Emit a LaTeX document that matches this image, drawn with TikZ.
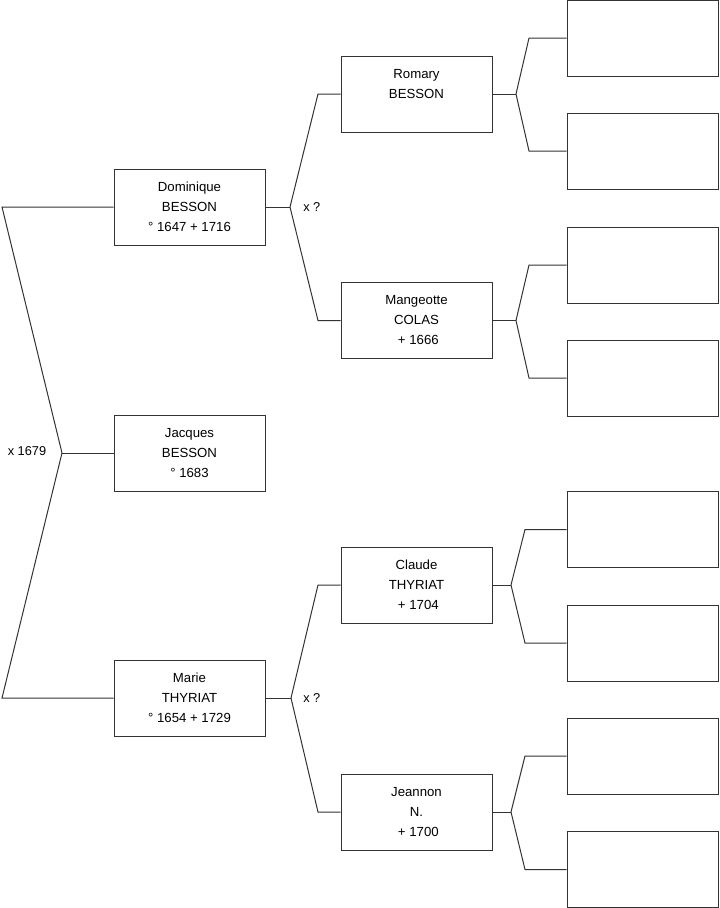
\documentclass[tikz,border=0pt]{standalone}
\usepackage{fontspec}
\setmainfont{Liberation Sans}
\usetikzlibrary{positioning, calc}
\definecolor{treeline}{HTML}{333333}

\begin{document}
\begin{tikzpicture}[
  x=0.75pt, y=-0.75pt,
  person/.style={draw=treeline, line width=0.75pt, minimum width=113.25pt, minimum height=57pt, inner sep=0pt, align=center, font=\fontsize{9.9}{15}\selectfont},
  blank/.style={draw=treeline, line width=0.75pt, minimum width=113.25pt, minimum height=57pt, inner sep=0pt},
  link/.style={draw=treeline, line width=0.75pt},
  union/.style={font=\fontsize{9.6}{11}\selectfont, inner sep=0pt}
]
\useasboundingbox (0,0) rectangle (719,908);

% generation 1 and 2
\node[person] (jacques) at (189.5,453) {Jacques\\BESSON\\° 1683};
\node[person] (dominique) at (189.5,207) {Dominique\\BESSON\\° 1647 + 1716};
\node[person] (marie) at (189.5,698) {Marie\\THYRIAT\\° 1654 + 1729};

% generation 3
\node[person] (romary) at (416.5,94) {Romary\\BESSON\\~};
\node[person] (mangeotte) at (416.5,320.5) {Mangeotte\\COLAS\\\ + 1666};
\node[person] (claude) at (416.5,585) {Claude\\THYRIAT\\\ + 1704};
\node[person] (jeannon) at (416.5,812) {Jeannon\\N.\\\ + 1700};

% generation 4 (empty)
\node[blank] (r1) at (642.5,38) {};
\node[blank] (r2) at (642.5,151) {};
\node[blank] (r3) at (642.5,265) {};
\node[blank] (r4) at (642.5,378) {};
\node[blank] (r5) at (642.5,529.5) {};
\node[blank] (r6) at (642.5,643) {};
\node[blank] (r7) at (642.5,756) {};
\node[blank] (r8) at (642.5,869.5) {};

% unions
\node[union] (u1) at (27,451) {x 1679};
\node[union, anchor=west] (u2) at (303,207) {x ?};
\node[union, anchor=west] (u3) at (303,698) {x ?};

% forks
\coordinate (j0) at (62,453);
\coordinate (xl) at (2,0);
\draw[link] (jacques.west) -- (j0);
\draw[link] (j0) -- (dominique.west -| xl) -- (dominique.west);
\draw[link] (j0) -- (marie.west -| xl) -- (marie.west);

\coordinate (j1) at (290,207);
\coordinate (xm) at (318,0);
\draw[link] (dominique.east) -- (j1);
\draw[link] (j1) -- (romary.west -| xm) -- (romary.west);
\draw[link] (j1) -- (mangeotte.west -| xm) -- (mangeotte.west);

\coordinate (j2) at (291,698);
\draw[link] (marie.east) -- (j2);
\draw[link] (j2) -- (claude.west -| xm) -- (claude.west);
\draw[link] (j2) -- (jeannon.west -| xm) -- (jeannon.west);

\coordinate (j3) at (516,94);
\coordinate (j4) at (516,320.5);
\coordinate (xr) at (529,0);
\draw[link] (romary.east) -- (j3);
\draw[link] (j3) -- (r1.west -| xr) -- (r1.west);
\draw[link] (j3) -- (r2.west -| xr) -- (r2.west);
\draw[link] (mangeotte.east) -- (j4);
\draw[link] (j4) -- (r3.west -| xr) -- (r3.west);
\draw[link] (j4) -- (r4.west -| xr) -- (r4.west);

\coordinate (j5) at (511,585);
\coordinate (j6) at (511,812);
\coordinate (xs) at (525,0);
\draw[link] (claude.east) -- (j5);
\draw[link] (j5) -- (r5.west -| xs) -- (r5.west);
\draw[link] (j5) -- (r6.west -| xs) -- (r6.west);
\draw[link] (jeannon.east) -- (j6);
\draw[link] (j6) -- (r7.west -| xs) -- (r7.west);
\draw[link] (j6) -- (r8.west -| xs) -- (r8.west);
\end{tikzpicture}
\end{document}
